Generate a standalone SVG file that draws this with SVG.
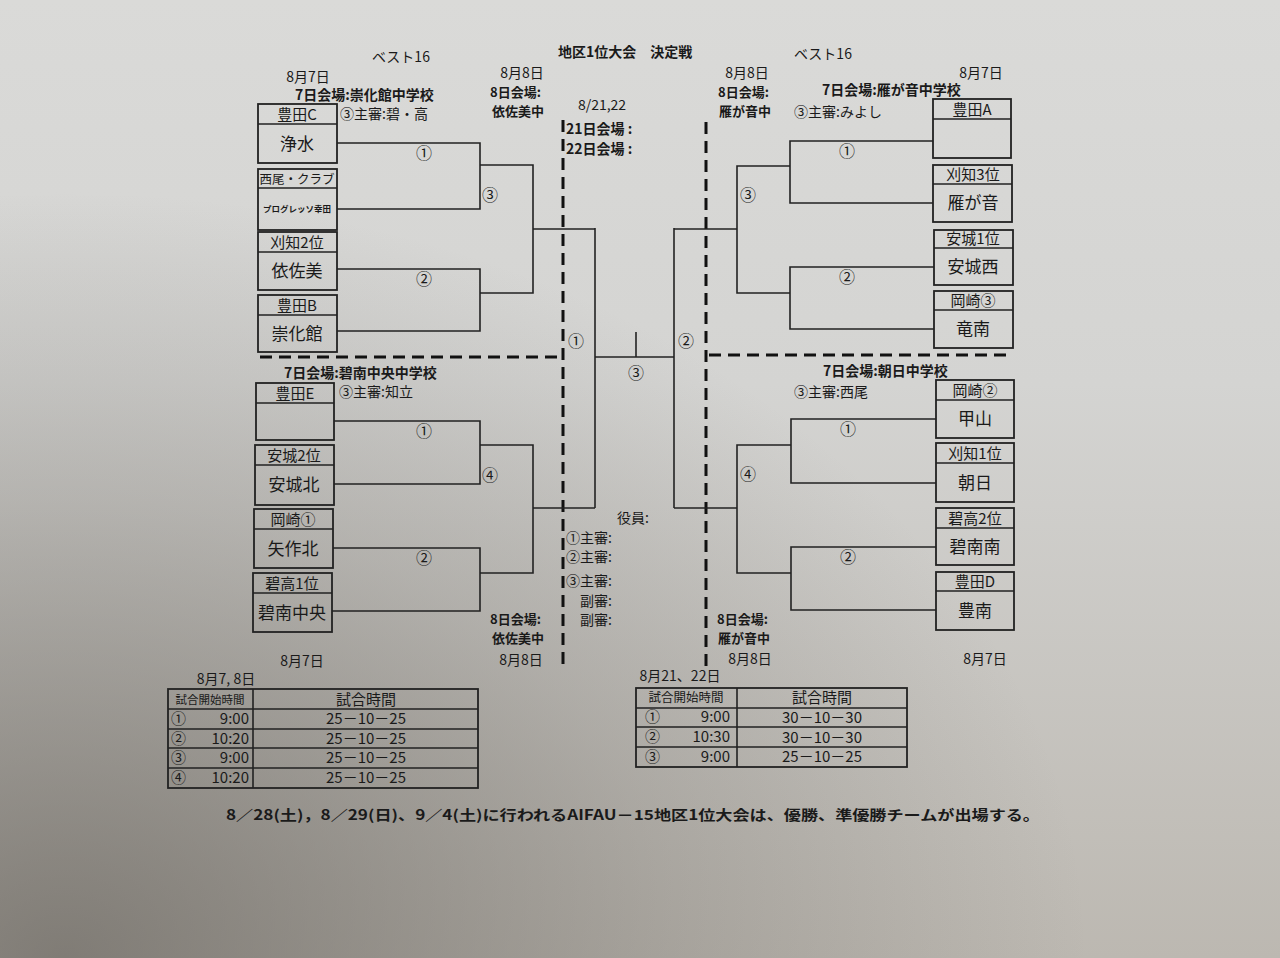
<svg xmlns="http://www.w3.org/2000/svg" width="1280" height="958" viewBox="0 0 1280 958">
<defs>
<linearGradient id="bg" x1="0" y1="0" x2="0" y2="1">
<stop offset="0" stop-color="#dadad8"/>
<stop offset="0.4" stop-color="#d4d4d2"/>
<stop offset="1" stop-color="#bcb8b1"/>
</linearGradient>
<radialGradient id="sh" cx="0.05" cy="1" r="0.8">
<stop offset="0" stop-color="#66625c" stop-opacity="0.7"/>
<stop offset="0.6" stop-color="#66625c" stop-opacity="0.25"/>
<stop offset="1" stop-color="#66625c" stop-opacity="0"/>
</radialGradient>
<style>
.bx{fill:none;stroke:#222;stroke-width:1.8}
.ln{fill:none;stroke:#222;stroke-width:1.6}
.dash{fill:none;stroke:#111;stroke-width:3;stroke-dasharray:12 7}
text{font-family:"Noto Sans CJK JP","Noto Sans CJK SC",sans-serif;fill:#1a1a1a}
.h{font-size:15px;text-anchor:middle}
.n{font-size:17px;text-anchor:middle}
.cn{font-size:16px;text-anchor:middle}
.b{font-size:14px;font-weight:bold}
.b2{font-size:13px;font-weight:bold}
.s{font-size:14px}
.c{font-size:15px;text-anchor:middle}
.tb{font-size:15px}
</style>
</defs>
<rect width="1280" height="958" fill="url(#bg)"/>
<rect width="1280" height="958" fill="url(#sh)"/>

<g id="headers">
<text x="401" y="62" class="s" text-anchor="middle">ベスト16</text>
<text x="558" y="57" class="b">地区1位大会　決定戦</text>
<text x="823" y="59" class="s" text-anchor="middle">ベスト16</text>
<text x="308" y="82" class="s" text-anchor="middle">8月7日</text>
<text x="295" y="100" class="b">7日会場:崇化館中学校</text>
<text x="340" y="119" class="s">③主審:碧・高</text>
<text x="522" y="78" class="s" text-anchor="middle">8月8日</text>
<text x="490" y="97" class="b2">8日会場:</text>
<text x="492" y="116" class="b2">依佐美中</text>
<text x="602" y="110" class="s" text-anchor="middle">8/21,22</text>
<text x="566" y="134" class="b">21日会場 :</text>
<text x="566" y="154" class="b">22日会場 :</text>
<text x="747" y="78" class="s" text-anchor="middle">8月8日</text>
<text x="718" y="97" class="b2">8日会場:</text>
<text x="719" y="116" class="b2">雁が音中</text>
<text x="822" y="95" class="b">7日会場:雁が音中学校</text>
<text x="794" y="117" class="s">③主審:みよし</text>
<text x="981" y="78" class="s" text-anchor="middle">8月7日</text>
<text x="284" y="378" class="b">7日会場:碧南中央中学校</text>
<text x="339" y="397" class="s">③主審:知立</text>
<text x="823" y="376" class="b">7日会場:朝日中学校</text>
<text x="794" y="397" class="s">③主審:西尾</text>
</g>

<g id="officials">
<text x="617" y="523" class="s">役員:</text>
<text x="566" y="543" class="s">①主審:</text>
<text x="566" y="562" class="s">②主審:</text>
<text x="566" y="586" class="s">③主審:</text>
<text x="580" y="606" class="s">副審:</text>
<text x="580" y="625" class="s">副審:</text>
</g>

<g id="footers">
<text x="490" y="624" class="b2">8日会場:</text>
<text x="492" y="643" class="b2">依佐美中</text>
<text x="521" y="665" class="s" text-anchor="middle">8月8日</text>
<text x="717" y="624" class="b2">8日会場:</text>
<text x="718" y="643" class="b2">雁が音中</text>
<text x="750" y="664" class="s" text-anchor="middle">8月8日</text>
<text x="985" y="664" class="s" text-anchor="middle">8月7日</text>
<text x="302" y="666" class="s" text-anchor="middle">8月7日</text>
<text x="226" y="684" class="s" text-anchor="middle">8月7, 8日</text>
<text x="680" y="681" class="s" text-anchor="middle">8月21、22日</text>
</g>

<g id="separators">
<path class="dash" d="M563,120 V668"/>
<path class="dash" d="M706,122 V668"/>
<path class="dash" d="M260,357 H563"/>
<path class="dash" d="M709,355 H1013"/>
</g>

<g id="connectors">
<path class="ln" d="M337,143 H480 V209 H337"/>
<path class="ln" d="M337,269 H480 V331 H337"/>
<path class="ln" d="M480,165 H533 V293 H480"/>
<path class="ln" d="M533,229 H595"/>
<path class="ln" d="M334,421 H480 V484 H334"/>
<path class="ln" d="M333,548 H480 V611 H332"/>
<path class="ln" d="M480,445 H533 V573 H480"/>
<path class="ln" d="M533,508 H595"/>
<path class="ln" d="M595,228 V508"/>
<path class="ln" d="M595,357 H674"/>
<path class="ln" d="M674,228 V508"/>
<path class="ln" d="M636,332 V357"/>
<path class="ln" d="M674,229 H737"/>
<path class="ln" d="M790,166 H737 V293 H790"/>
<path class="ln" d="M933,141 H790 V203 H933"/>
<path class="ln" d="M934,267 H790 V329 H934"/>
<path class="ln" d="M674,508 H737"/>
<path class="ln" d="M791,445 H737 V573 H791"/>
<path class="ln" d="M936,419 H791 V483 H936"/>
<path class="ln" d="M936,547 H791 V610 H936"/>
<text x="424" y="159" class="cn">①</text>
<text x="490" y="201" class="cn">③</text>
<text x="424" y="285" class="cn">②</text>
<text x="424" y="437" class="cn">①</text>
<text x="490" y="481" class="cn">④</text>
<text x="424" y="564" class="cn">②</text>
<text x="576" y="347" class="cn">①</text>
<text x="686" y="347" class="cn">②</text>
<text x="636" y="379" class="cn">③</text>
<text x="847" y="157" class="cn">①</text>
<text x="748" y="201" class="cn">③</text>
<text x="847" y="283" class="cn">②</text>
<text x="848" y="435" class="cn">①</text>
<text x="748" y="480" class="cn">④</text>
<text x="848" y="563" class="cn">②</text>
</g>

<g id="team-L1"><rect class="bx" x="258" y="104" width="79" height="59"/><path class="ln" d="M258,124 H337"/><text x="297" y="120" class="h">豊田C</text><text x="297" y="150" class="n">浄水</text></g>
<g id="team-L2"><rect class="bx" x="258" y="169" width="79" height="61"/><path class="ln" d="M258,188 H337"/><text x="297" y="184" class="h" style="font-size:12.5px">西尾・クラブ</text><text x="297" y="212" class="h" style="font-size:8.5px;font-weight:bold">プログレッソ幸田</text></g>
<g id="team-L3"><rect class="bx" x="258" y="232" width="79" height="58"/><path class="ln" d="M258,252 H337"/><text x="297" y="248" class="h">刈知2位</text><text x="297" y="277" class="n">依佐美</text></g>
<g id="team-L4"><rect class="bx" x="258" y="295" width="79" height="57"/><path class="ln" d="M258,315 H337"/><text x="297" y="311" class="h">豊田B</text><text x="297" y="340" class="n">崇化館</text></g>
<g id="team-L5"><rect class="bx" x="256" y="383" width="78" height="57"/><path class="ln" d="M256,403 H334"/><text x="295" y="399" class="h">豊田E</text></g>
<g id="team-L6"><rect class="bx" x="255" y="445" width="79" height="60"/><path class="ln" d="M255,465 H334"/><text x="294" y="461" class="h">安城2位</text><text x="294" y="491" class="n">安城北</text></g>
<g id="team-L7"><rect class="bx" x="254" y="509" width="79" height="59"/><path class="ln" d="M254,529 H333"/><text x="293" y="525" class="h">岡崎①</text><text x="293" y="555" class="n">矢作北</text></g>
<g id="team-L8"><rect class="bx" x="253" y="573" width="79" height="59"/><path class="ln" d="M253,593 H332"/><text x="292" y="589" class="h">碧高1位</text><text x="292" y="619" class="n">碧南中央</text></g>

<g id="team-R1"><rect class="bx" x="933" y="99" width="78" height="59"/><path class="ln" d="M933,119 H1011"/><text x="972" y="115" class="h">豊田A</text></g>
<g id="team-R2"><rect class="bx" x="933" y="165" width="79" height="57"/><path class="ln" d="M933,184 H1012"/><text x="973" y="180" class="h">刈知3位</text><text x="973" y="209" class="n">雁が音</text></g>
<g id="team-R3"><rect class="bx" x="934" y="230" width="79" height="55"/><path class="ln" d="M934,248 H1013"/><text x="973" y="244" class="h">安城1位</text><text x="973" y="273" class="n">安城西</text></g>
<g id="team-R4"><rect class="bx" x="934" y="291" width="79" height="57"/><path class="ln" d="M934,310 H1013"/><text x="973" y="306" class="h">岡崎③</text><text x="973" y="335" class="n">竜南</text></g>
<g id="team-R5"><rect class="bx" x="936" y="380" width="78" height="58"/><path class="ln" d="M936,400 H1014"/><text x="975" y="396" class="h">岡崎②</text><text x="975" y="425" class="n">甲山</text></g>
<g id="team-R6"><rect class="bx" x="936" y="443" width="78" height="59"/><path class="ln" d="M936,463 H1014"/><text x="975" y="459" class="h">刈知1位</text><text x="975" y="489" class="n">朝日</text></g>
<g id="team-R7"><rect class="bx" x="936" y="508" width="78" height="57"/><path class="ln" d="M936,528 H1014"/><text x="975" y="524" class="h">碧高2位</text><text x="975" y="553" class="n">碧南南</text></g>
<g id="team-R8"><rect class="bx" x="936" y="572" width="78" height="58"/><path class="ln" d="M936,591 H1014"/><text x="975" y="587" class="h">豊田D</text><text x="975" y="617" class="n">豊南</text></g>

<g id="table-left">
<rect class="bx" x="168" y="689" width="310" height="99"/>
<path class="ln" d="M253,689 V788 M168,709 H478 M168,729 H478 M168,748 H478 M168,768 H478"/>
<text x="210" y="704" class="h" style="font-size:11.5px">試合開始時間</text>
<text x="366" y="705" class="c">試合時間</text>
<text x="171" y="724" class="tb">①</text><text x="249" y="724" class="tb" text-anchor="end">9:00</text><text x="366" y="724" class="c">25－10－25</text>
<text x="171" y="744" class="tb">②</text><text x="249" y="744" class="tb" text-anchor="end">10:20</text><text x="366" y="744" class="c">25－10－25</text>
<text x="171" y="763" class="tb">③</text><text x="249" y="763" class="tb" text-anchor="end">9:00</text><text x="366" y="763" class="c">25－10－25</text>
<text x="171" y="783" class="tb">④</text><text x="249" y="783" class="tb" text-anchor="end">10:20</text><text x="366" y="783" class="c">25－10－25</text>
</g>
<g id="table-right">
<rect class="bx" x="636" y="688" width="271" height="79"/>
<path class="ln" d="M737,688 V767 M636,708 H907 M636,727 H907 M636,747 H907"/>
<text x="686" y="702" class="h" style="font-size:12.5px">試合開始時間</text>
<text x="822" y="703" class="c">試合時間</text>
<text x="645" y="722" class="tb">①</text><text x="730" y="722" class="tb" text-anchor="end">9:00</text><text x="822" y="723" class="c">30－10－30</text>
<text x="645" y="742" class="tb">②</text><text x="730" y="742" class="tb" text-anchor="end">10:30</text><text x="822" y="743" class="c">30－10－30</text>
<text x="645" y="762" class="tb">③</text><text x="730" y="762" class="tb" text-anchor="end">9:00</text><text x="822" y="762" class="c">25－10－25</text>
</g>

<text x="226" y="820" class="b" textLength="814" lengthAdjust="spacingAndGlyphs">8／28(土)，8／29(日)、9／4(土)に行われるAIFAU－15地区1位大会は、優勝、準優勝チームが出場する。</text>
</svg>
